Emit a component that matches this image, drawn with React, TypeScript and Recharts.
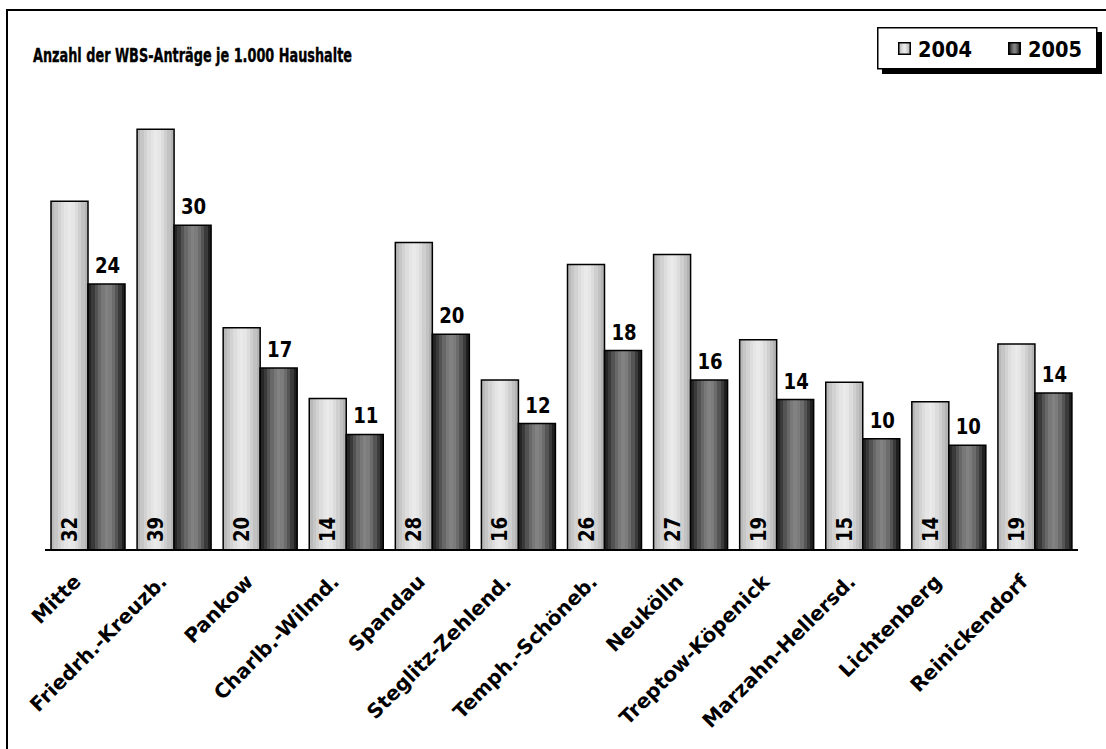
import React from "react";
import { BarChart, Bar, XAxis, YAxis, LabelList } from "recharts";

const districts = [
  "Mitte",
  "Friedrh.-Kreuzb.",
  "Pankow",
  "Charlb.-Wilmd.",
  "Spandau",
  "Steglitz-Zehlend.",
  "Temph.-Schöneb.",
  "Neukölln",
  "Treptow-Köpenick",
  "Marzahn-Hellersd.",
  "Lichtenberg",
  "Reinickendorf",
];
const antraege2004 = [32.0, 38.6, 20.4, 13.9, 28.2, 15.6, 26.2, 27.1, 19.3, 15.4, 13.6, 18.9];
const antraege2005 = [24.4, 29.8, 16.7, 10.6, 19.8, 11.6, 18.3, 15.6, 13.8, 10.2, 9.6, 14.4];
const years = ["2004", "2005"];
const yDomain = [0, 40];
const title = "Anzahl der WBS-Anträge je 1.000 Haushalte";

const data = districts.map((name, i) => ({
  name,
  y2004: antraege2004[i],
  y2005: antraege2005[i],
}));

const FONT = "'DejaVu Sans', Verdana, sans-serif";
// the original face is narrower than DejaVu, so numbers get squeezed a little
const DIGIT_W = 12.6;

const lightStops = ["#b9b9b9", "#c6c6c6", "#d2d2d2", "#dddddd", "#e5e5e5", "#eaeaea", "#e6e6e6", "#dcdcdc", "#cfcfcf", "#c2c2c2", "#b4b4b4"];
const darkStops = ["#262626", "#3a3a3a", "#535353", "#686868", "#787878", "#828282", "#7c7c7c", "#6c6c6c", "#555555", "#3b3b3b", "#1f1f1f"];

function Stepped({ id, stops }: { id: string; stops: string[] }) {
  const n = stops.length;
  return (
    <linearGradient id={id} x1="0" y1="0" x2="1" y2="0">
      {stops.flatMap((c, i) => [
        <stop key={i + "a"} offset={i / n} stopColor={c} />,
        <stop key={i + "b"} offset={(i + 1) / n} stopColor={c} />,
      ])}
    </linearGradient>
  );
}

const InsideLabel = (props: any) => {
  const { x, y, width, height, value } = props;
  const cx = x + width / 2;
  const by = y + height - 8;
  const s = String(Math.round(value));
  return (
    <text
      x={cx}
      y={by}
      dy="0.36em"
      transform={`rotate(-90, ${cx}, ${by})`}
      textAnchor="start"
      fontFamily={FONT}
      fontWeight="bold"
      fontSize={21}
      textLength={s.length * DIGIT_W}
      lengthAdjust="spacingAndGlyphs"
      fill="#000"
    >
      {s}
    </text>
  );
};

const TopLabel = (props: any) => {
  const { x, y, width, value } = props;
  const s = String(Math.round(value));
  const w = s.length * DIGIT_W;
  return (
    <text
      x={x + width / 2 - w / 2 + 1}
      y={y - 11}
      fontFamily={FONT}
      fontWeight="bold"
      fontSize={21}
      textLength={w}
      lengthAdjust="spacingAndGlyphs"
      fill="#000"
    >
      {s}
    </text>
  );
};

const DistrictTick = (props: any) => {
  const { x, y, payload } = props;
  const ax = x - 6;
  const ay = y + 25;
  return (
    <text
      x={ax}
      y={ay}
      textAnchor="end"
      transform={`rotate(-45, ${ax}, ${ay})`}
      fontFamily={FONT}
      fontWeight="bold"
      fontSize={20}
      fill="#000"
    >
      {payload.value}
    </text>
  );
};

function LegendBox() {
  return (
    <svg width={230} height={52} style={{ position: "absolute", left: 876, top: 26 }}>
      <rect x={6} y={6} width={220} height={42} fill="#000" />
      <rect x={1.75} y={1.75} width={219} height={41} fill="#fff" stroke="#000" strokeWidth={1.5} />
      {years.map((yr, i) => {
        const ix = i === 0 ? 22 : 132;
        return (
          <g key={yr}>
            <rect x={ix + 0.75} y={16.75} width={11.5} height={11.5} fill={i === 0 ? "url(#g2004)" : "url(#g2005)"} stroke="#000" strokeWidth={1.5} />
            <text
              x={ix + 20}
              y={30.5}
              fontFamily={FONT}
              fontWeight="bold"
              fontSize={21}
              textLength={54}
              lengthAdjust="spacingAndGlyphs"
              fill="#000"
            >
              {yr}
            </text>
          </g>
        );
      })}
    </svg>
  );
}

export default function App() {
  return (
    <div style={{ position: "absolute", left: 0, top: 0, width: 1106, height: 749, background: "#fff", overflow: "hidden" }}>
      <svg width={0} height={0} style={{ position: "absolute" }}>
        <defs>
          <Stepped id="g2004" stops={lightStops} />
          <Stepped id="g2005" stops={darkStops} />
        </defs>
      </svg>
      <div
        style={{
          position: "absolute",
          left: 6,
          top: 9,
          width: 1200,
          height: 800,
          borderLeft: "2px solid #000",
          borderTop: "2px solid #000",
        }}
      />
      <svg width={600} height={80} style={{ position: "absolute", left: 0, top: 0 }}>
        <text
          x={33}
          y={62}
          fontFamily={FONT}
          fontWeight="bold"
          fontSize={19}
          textLength={319}
          lengthAdjust="spacingAndGlyphs"
          fill="#000"
          stroke="#000"
          strokeWidth={0.4}
        >
          {title}
        </text>
      </svg>
      <div style={{ position: "absolute", left: 0, top: 0 }}>
        <BarChart
          width={1106}
          height={749}
          data={data}
          margin={{ top: 114, right: 28, bottom: 49, left: 45 }}
          barCategoryGap={6}
          barGap={0}
        >
          <YAxis hide domain={yDomain} />
          <XAxis
            dataKey="name"
            interval={0}
            height={150}
            tickLine={false}
            axisLine={{ stroke: "#000", strokeWidth: 2 }}
            tick={<DistrictTick />}
          />
          <Bar dataKey="y2004" name={years[0]} fill="url(#g2004)" stroke="#000" strokeWidth={1.5} isAnimationActive={false}>
            <LabelList dataKey="y2004" content={<InsideLabel />} />
          </Bar>
          <Bar dataKey="y2005" name={years[1]} fill="url(#g2005)" stroke="#000" strokeWidth={1.5} isAnimationActive={false}>
            <LabelList dataKey="y2005" content={<TopLabel />} />
          </Bar>
        </BarChart>
      </div>
      <LegendBox />
    </div>
  );
}
